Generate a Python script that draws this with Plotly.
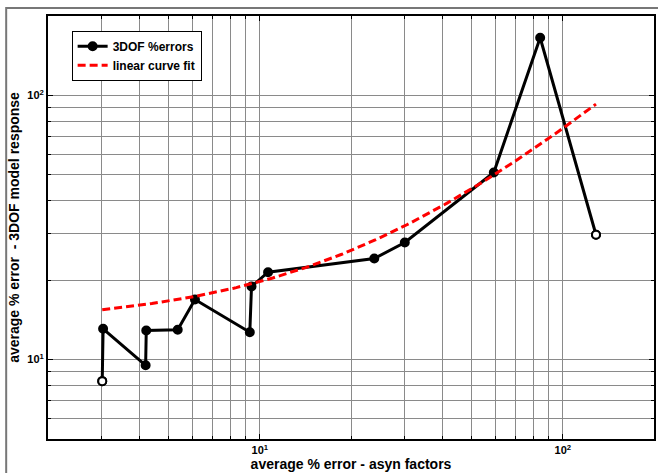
import numpy as np
import plotly.graph_objects as go

# average % error of the asyn factors vs. the 3DOF model response
asyn_err = [3.02, 3.04, 4.20, 4.22, 5.36, 6.11, 9.27, 9.39, 10.65, 23.87, 30.1, 59.2, 84.2, 128.7]
dof_err = [8.28, 13.07, 9.51, 12.88, 12.96, 16.88, 12.69, 18.90, 21.41, 24.13, 27.75, 51.1, 165.4, 29.68]

# tick labels and grid positions
x_major = [10, 100]
x_major_text = ["<b>10<sup>1</sup></b>", "<b>10<sup>2</sup></b>"]
y_major = [10, 100]
y_major_text = ["<b>10<sup>1</sup></b>", "<b>10<sup>2</sup></b>"]
x_minor = [2, 3, 4, 5, 6, 7, 8, 9, 20, 30, 40, 50, 60, 70, 80, 90, 200]
y_minor = [5, 6, 7, 8, 9, 20, 30, 40, 50, 60, 70, 80, 90, 200]

# least-squares straight line through the data
slope, intercept = np.polyfit(asyn_err, dof_err, 1)
fit_x = np.geomspace(min(asyn_err), max(asyn_err), 200)
fit_y = intercept + slope * fit_x

fig = go.Figure()
fig.add_trace(go.Scatter(
    x=asyn_err, y=dof_err, mode="lines+markers", name="3DOF %errors",
    line=dict(color="black", width=3),
    marker=dict(size=8, color="black", line=dict(color="black", width=2)),
))
# first and last samples are drawn as open circles
fig.add_trace(go.Scatter(
    x=[asyn_err[0], asyn_err[-1]], y=[dof_err[0], dof_err[-1]], mode="markers",
    showlegend=False, hoverinfo="skip",
    marker=dict(size=8, color="white", line=dict(color="black", width=2)),
))
fig.add_trace(go.Scatter(
    x=fit_x, y=fit_y, mode="lines", name="linear curve fit",
    line=dict(color="red", width=3, dash="8px,4px"),
))

grid = "#8a8a8a"
axis_common = dict(
    type="log", showline=True, linecolor="black", linewidth=2, mirror="ticks",
    ticks="inside", ticklen=5, tickcolor="black", tickwidth=1,
    showgrid=True, gridcolor=grid, gridwidth=1, zeroline=False,
    tickfont=dict(family="Arial, Liberation Sans", size=11, color="black"),
    title_font=dict(family="Arial, Liberation Sans", size=14, color="black"),
)

fig.update_xaxes(
    **axis_common,
    range=[np.log10(2), np.log10(200)],
    tickmode="array", tickvals=x_major, ticktext=x_major_text,
    minor=dict(tickmode="array", tickvals=x_minor, showgrid=True,
               gridcolor=grid, gridwidth=1, ticks="inside", ticklen=3, tickcolor="black"),
    title=dict(text="<b>average % error - asyn factors</b>", standoff=4),
)
fig.update_yaxes(
    **axis_common,
    range=[np.log10(5), np.log10(200)],
    tickmode="array", tickvals=y_major, ticktext=y_major_text,
    minor=dict(tickmode="array", tickvals=y_minor, showgrid=True,
               gridcolor=grid, gridwidth=1, ticks="inside", ticklen=3, tickcolor="black"),
    title=dict(text="<b>average % error  - 3DOF model response</b>", standoff=4),
)

# outer figure frame
fig.add_shape(type="rect", xref="paper", yref="paper",
              x0=-0.069, x1=1.2, y0=-0.3, y1=1.019,
              line=dict(color="#777777", width=2), layer="below")

fig.update_layout(
    width=658, height=473,
    margin=dict(l=48, r=2, t=16, b=34),
    plot_bgcolor="white", paper_bgcolor="white",
    showlegend=True,
    legend=dict(
        x=0.039, y=0.965, xanchor="left", yanchor="top",
        bgcolor="white", bordercolor="black", borderwidth=1,
        font=dict(family="Arial, Liberation Sans", size=12, color="black", weight="bold"),
        tracegroupgap=2, itemwidth=30,
    ),
)

fig.write_html("out.html")
